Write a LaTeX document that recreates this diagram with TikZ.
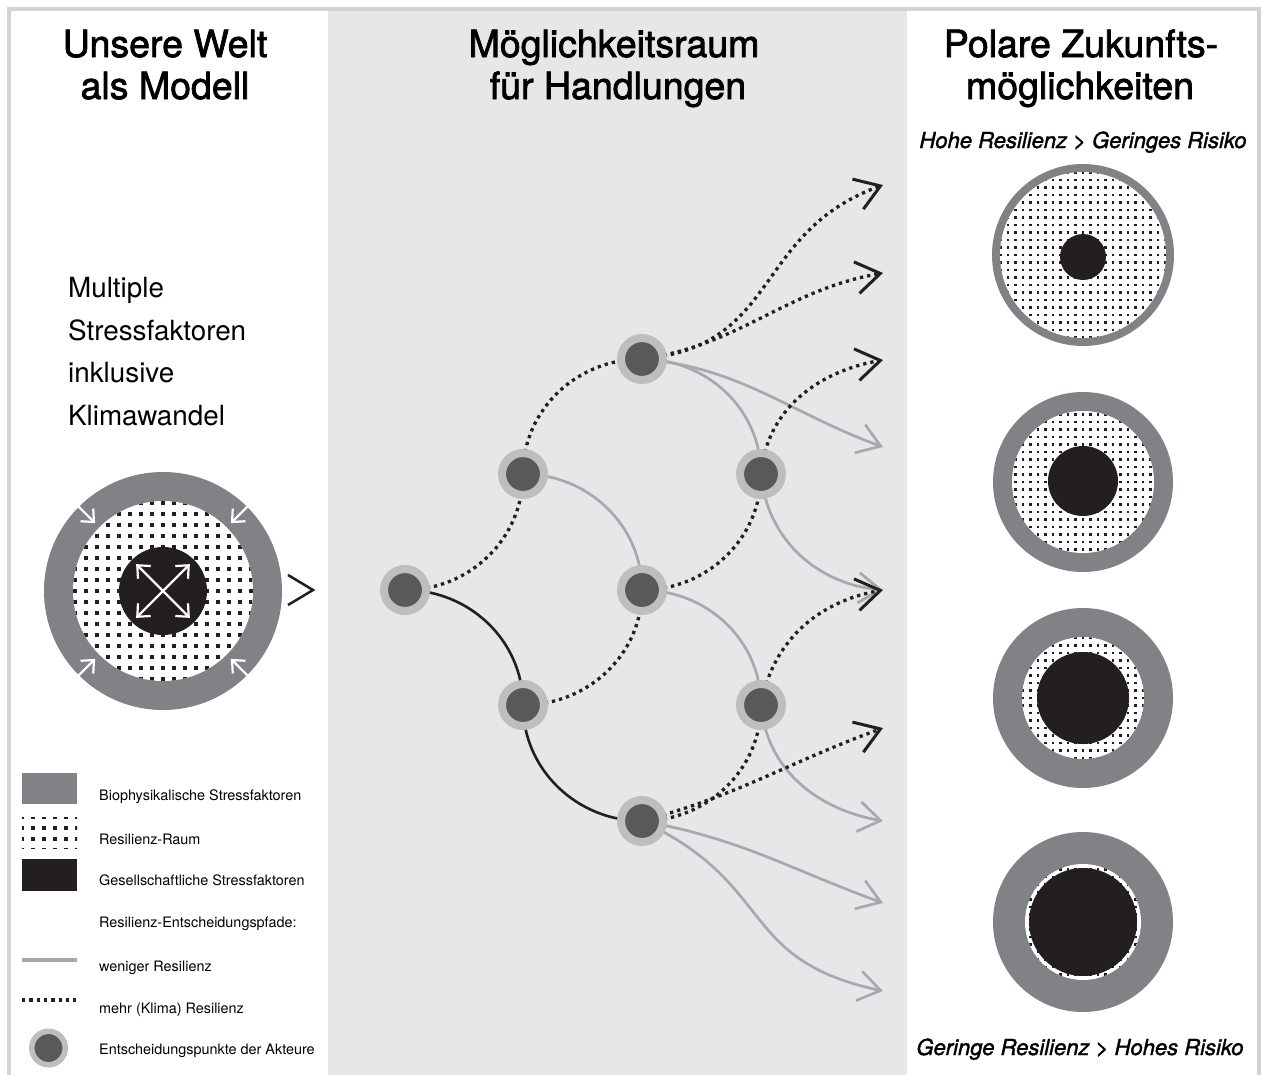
\documentclass[tikz,border=0pt]{standalone}
\usepackage{fontspec}
\setmainfont{TeX Gyre Heros}
\newfontfamily\medfont{TeX Gyre Heros}[FakeBold=2]
\newfontfamily\meditfont{TeX Gyre Heros Italic}[FakeBold=1.6]
\usetikzlibrary{arrows.meta,calc,backgrounds}

\definecolor{ringgray}{HTML}{808285}
\definecolor{panelgray}{HTML}{E6E7E8}
\definecolor{framegray}{HTML}{D1D3D4}
\definecolor{nodering}{HTML}{BCBEC0}
\definecolor{nodecore}{HTML}{58595B}
\definecolor{pathgray}{HTML}{A7A9AC}
\definecolor{ink}{HTML}{231F20}

% white disc filled with a grid of small black squares
\newcommand{\dotdisc}[5]{%
  \begin{scope}
    \fill[white] (#1,#2) circle (#3);
    \clip (#1,#2) circle (#3);
    \pgfmathtruncatemacro{\dotn}{ceil(#3/#4)}
    \foreach \i in {-\dotn,...,\dotn}{
      \foreach \j in {-\dotn,...,\dotn}{
        \fill[ink] ({#1+\i*#4-#5/2},{#2+\j*#4-#5/2}) rectangle +(#5,#5);
      }}
  \end{scope}}

\tikzset{
  dotpath/.style={draw=ink, line width=3.3pt, dash pattern=on 3.3pt off 4pt},
  lesspath/.style={draw=pathgray, line width=2.7pt},
  solidpath/.style={draw=ink, line width=2.6pt},
  darkhead/.style={-{Straight Barb[length=24pt,width=32pt,line width=3pt]}},
  grayhead/.style={-{Straight Barb[length=22pt,width=30pt,line width=2.7pt]}},
  decision/.style={circle, fill=nodecore, draw=nodering, line width=8pt,
    minimum size=42pt, inner sep=0pt},
  title/.style={font=\fontsize{37.5}{44}\medfont, anchor=base, inner sep=0pt},
  subtitle/.style={font=\fontsize{22}{26}\meditfont, anchor=base, inner sep=0pt},
  bigtext/.style={font=\fontsize{27.8}{32}\selectfont, anchor=base west, inner sep=0pt},
  legtext/.style={font=\fontsize{14.4}{17}\selectfont, anchor=base west, inner sep=0pt},
  whitearrow/.style={white, line width=2.2pt, -{Straight Barb[length=10pt,width=18pt]}},
  whitedouble/.style={white, line width=2.2pt,
    {Straight Barb[length=10pt,width=18pt]}-{Straight Barb[length=10pt,width=18pt]}}
}

\begin{document}
\begin{tikzpicture}[x=1pt,y=1pt]
\useasboundingbox (0,0) rectangle (1263,-1074);

% panels and frame
\begin{scope}[on background layer]
  \fill[white] (0,0) rectangle (1263,-1074);
  \fill[panelgray] (328,-11) rectangle (907,-1080);
\end{scope}
\draw[framegray, line width=4pt] (9,-1090) -- (9,-9) -- (1259,-9) -- (1259,-1090);

% column headings
\node[title] (h1a) at (165,-57) {Unsere Welt};
\node[title] (h1b) at (165,-99) {als Modell};
\node[title] (h2a) at (614,-57) {Möglichkeitsraum};
\node[title] (h2b) at (618,-99) {für Handlungen};
\node[title] (h3a) at (1081,-57) {Polare Zukunfts-};
\node[title] (h3b) at (1080,-99) {möglichkeiten};

\node[subtitle] (s1) at (1083,-148) {Hohe Resilienz > Geringes Risiko};
\node[subtitle] (s2) at (1080,-1055) {Geringe Resilienz > Hohes Risiko};

% left column text
\node[bigtext] (m1) at (68,-297) {Multiple};
\node[bigtext] (m2) at (68,-340) {Stressfaktoren};
\node[bigtext] (m3) at (68,-382) {inklusive};
\node[bigtext] (m4) at (68,-425) {Klimawandel};

% world model
\coordinate (wc) at (163,-591);
\fill[ringgray] (wc) circle (119);
\dotdisc{163}{-591}{90}{11}{3.7}
\fill[ink] (wc) circle (44);
\foreach \a in {45,135,225,315}
  \draw[whitearrow] ($(wc)+(\a:120)$) -- ($(wc)+(\a:96)$);
\foreach \a in {45,135}
  \draw[whitedouble] ($(wc)+(\a:38)$) -- ($(wc)+(\a+180:38)$);
\draw[ink, line width=2.5pt] (288,-575) -- (313,-590) -- (288,-605);

% legend
\fill[ringgray] (22,-773) rectangle (77,-804);
\begin{scope}
  \fill[white] (22,-817) rectangle (77,-848);
  \clip (22,-817) rectangle (77,-848);
  \foreach \i in {0,...,5}{
    \foreach \j in {0,...,3}{
      \fill[ink] ({22+\i*11-1.8},{-817-\j*11+1.8}) rectangle +(3.6,-3.6);
    }}
\end{scope}
\fill[ink] (22,-859) rectangle (77,-891);
\draw[lesspath, line width=3.3pt] (22,-960) -- (77,-960);
\draw[dotpath] (22,-1000) -- (77,-1000);
\node[decision, minimum size=33.5pt, line width=5.5pt] (legnode) at (48.5,-1048) {};

\node[legtext] (l1) at (99,-800) {Biophysikalische Stressfaktoren};
\node[legtext] (l2) at (99,-844) {Resilienz-Raum};
\node[legtext] (l3) at (99,-885) {Gesellschaftliche Stressfaktoren};
\node[legtext] (l4) at (99,-927) {Resilienz-Entscheidungspfade:};
\node[legtext] (l5) at (99,-971) {weniger Resilienz};
\node[legtext] (l6) at (99,-1013) {mehr (Klima) Resilienz};
\node[legtext] (l7) at (99,-1054) {Entscheidungspunkte der Akteure};

% decision points
\node[decision] (A) at (405,-590) {};
\node[decision] (B) at (523,-474) {};
\node[decision] (C) at (523,-705) {};
\node[decision] (D) at (642,-359) {};
\node[decision] (E) at (642,-590) {};
\node[decision] (F) at (642,-821) {};
\node[decision] (G) at (761,-474) {};
\node[decision] (H) at (761,-705) {};

% path ends
\coordinate (e1) at (883,-185);
\coordinate (e2) at (883,-273);
\coordinate (e3) at (883,-360);
\coordinate (e4) at (883,-447);
\coordinate (e5) at (883,-590);
\coordinate (e6) at (883,-728);
\coordinate (e7) at (883,-821);
\coordinate (e8) at (883,-903);
\coordinate (e9) at (883,-991);

% decision paths
\begin{scope}[on background layer]
  \draw[dotpath] (A.center) to[out=0,in=-90] (B.center);
  \draw[solidpath] (A.center) to[out=0,in=90] (C.center);
  \draw[dotpath] (B.center) to[out=90,in=180] (D.center);
  \draw[lesspath] (B.center) to[out=0,in=90] (E.center);
  \draw[dotpath] (C.center) to[out=0,in=-90] (E.center);
  \draw[solidpath] (C.center) to[out=-90,in=180] (F.center);
  \draw[lesspath] (D.center) to[out=0,in=90] (G.center);
  \draw[dotpath] (E.center) to[out=0,in=-90] (G.center);
  \draw[lesspath] (E.center) to[out=0,in=90] (H.center);
  \draw[dotpath] (F.center) to[out=0,in=-90] (H.center);

  \draw[dotpath,darkhead] (D.center) to[out=5,in=200,looseness=1.2] (e1);
  \draw[dotpath,darkhead] (D.center) to[out=8,in=190] (e2);
  \draw[lesspath,grayhead] (D.center) to[out=-5,in=160] (e4);
  \draw[dotpath,darkhead] (G.center) to[out=85,in=190] (e3);
  \draw[lesspath,grayhead] (G.center) to[out=-85,in=175] (e5);
  \draw[dotpath,darkhead] (H.center) to[out=80,in=190] (e5);
  \draw[lesspath,grayhead] (H.center) to[out=-85,in=170] (e7);
  \draw[dotpath,darkhead] (F.center) to[out=15,in=200] (e6);
  \draw[lesspath,grayhead] (F.center) to[out=-10,in=160] (e8);
  \draw[lesspath,grayhead] (F.center) to[out=-25,in=168,looseness=1.3] (e9);
\end{scope}

% future outcomes
\fill[ringgray] (1083,-255) circle (91);
\dotdisc{1083}{-255}{83}{7.5}{2.7}
\fill[ink] (1083,-257) circle (23);

\fill[ringgray] (1083,-482) circle (90);
\dotdisc{1083}{-482}{71}{7.5}{2.7}
\fill[ink] (1083,-481) circle (35);

\fill[ringgray] (1083,-698) circle (90);
\dotdisc{1083}{-698}{61}{7.5}{2.7}
\fill[ink] (1083,-698) circle (46);

\fill[ringgray] (1083,-922) circle (90);
\dotdisc{1083}{-922}{58}{7.5}{2.7}
\fill[ink] (1083,-922) circle (54);
\end{tikzpicture}
\end{document}
